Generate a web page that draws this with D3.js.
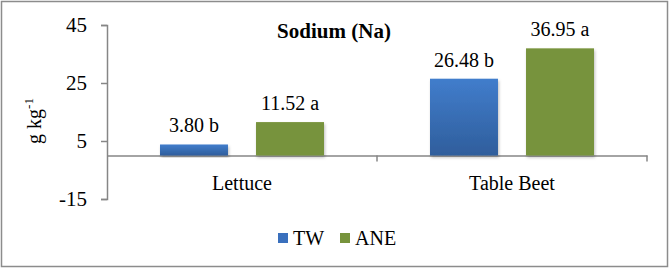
<!DOCTYPE html>
<html>
<head>
<meta charset="utf-8">
<script src="https://cdn.jsdelivr.net/npm/d3@7"></script>
</head>
<body style="margin:0;background:#fff">
<script>
// data
var categories = ["Lettuce", "Table Beet"];
var seriesNames = ["TW", "ANE"];
var twValues = [3.80, 26.48];
var aneValues = [11.52, 36.95];
var twLabels = ["3.80 b", "26.48 b"];
var aneLabels = ["11.52 a", "36.95 a"];
var yTicks = [45, 25, 5, -15];

var width = 669, height = 269;
var margin = {top: 25, right: 22, bottom: 70, left: 107};
var serif = "Times New Roman";

var svg = d3.select("body").append("svg")
    .attr("width", width)
    .attr("height", height)
    .attr("font-family", serif)
    .style("font-family", serif)
    .style("display", "block");

var defs = svg.append("defs");
var grad = defs.append("linearGradient")
    .attr("id", "blueGrad")
    .attr("x1", 0).attr("y1", 0).attr("x2", 0).attr("y2", 1);
grad.append("stop").attr("offset", "0%").attr("stop-color", "#417dcc");
grad.append("stop").attr("offset", "100%").attr("stop-color", "#2f5e9c");

var shadow = defs.append("filter").attr("id", "shadow")
    .attr("x", "-10%").attr("y", "-10%").attr("width", "130%").attr("height", "130%");
shadow.append("feDropShadow")
    .attr("dx", 1).attr("dy", 2).attr("stdDeviation", 1.5)
    .attr("flood-color", "#000").attr("flood-opacity", 0.25);

// frame
svg.append("rect")
    .attr("x", 1.5).attr("y", 1.5)
    .attr("width", width - 3).attr("height", height - 4)
    .attr("fill", "none")
    .attr("stroke", "#8c8c8c")
    .attr("stroke-width", 1.5);

var x0 = d3.scaleBand()
    .domain(categories)
    .range([margin.left, width - margin.right])
    .padding(0);

var x1 = d3.scaleBand()
    .domain(seriesNames)
    .range([0, x0.bandwidth()])
    .paddingInner(0.292)
    .paddingOuter(0.552);

var y = d3.scaleLinear()
    .domain([-15, 45])
    .range([199, 25]);

var colors = {TW: "url(#blueGrad)", ANE: "#77933c"};
var legendColors = {TW: "#3a70bd", ANE: "#77933c"};

var rows = [];
categories.forEach(function(c, i){
    rows.push({cat: c, s: "TW", v: twValues[i], label: twLabels[i]});
    rows.push({cat: c, s: "ANE", v: aneValues[i], label: aneLabels[i]});
});

// y axis
var yAxis = d3.axisLeft(y).tickValues(yTicks).tickSize(6).tickPadding(14)
    .tickFormat(function(d){ return String(d); });
var yg = svg.append("g")
    .attr("transform", "translate(" + margin.left + ",0)")
    .call(yAxis)
    .attr("font-family", serif)
    .attr("font-size", 21);
yg.select(".domain").attr("stroke", "#868686").attr("stroke-width", 1.5);
yg.selectAll(".tick line").attr("stroke", "#868686").attr("stroke-width", 1.5);
yg.selectAll(".tick text")
    .style("font-family", serif)
    .style("font-size", "21px")
    .attr("fill", "#000");

// x axis at zero
var xAxis = d3.axisBottom(x0).tickSize(6).tickPadding(10).tickSizeOuter(0);
var xg = svg.append("g")
    .attr("transform", "translate(0," + y(0) + ")")
    .call(xAxis)
    .attr("font-family", serif)
    .attr("font-size", 20);
xg.select(".domain").attr("stroke", "#868686").attr("stroke-width", 1.5);
xg.selectAll(".tick line")
    .attr("stroke", "#868686").attr("stroke-width", 1.5)
    .attr("transform", "translate(" + (x0.bandwidth() / 2) + ",0)");
xg.selectAll(".tick text")
    .style("font-family", serif)
    .style("font-size", "20px")
    .attr("fill", "#000")
    .attr("dy", "0.9em");

// bars
svg.append("g").selectAll("rect")
    .data(rows)
    .enter().append("rect")
    .attr("x", function(d){ return x0(d.cat) + x1(d.s); })
    .attr("y", function(d){ return y(d.v); })
    .attr("width", x1.bandwidth())
    .attr("height", function(d){ return y(0) - y(d.v); })
    .attr("fill", function(d){ return colors[d.s]; })
    .attr("filter", "url(#shadow)");

// value labels
svg.append("g").selectAll("text")
    .data(rows)
    .enter().append("text")
    .attr("x", function(d){ return x0(d.cat) + x1(d.s) + x1.bandwidth() / 2; })
    .attr("y", function(d){ return y(d.v) - 12; })
    .attr("text-anchor", "middle")
    .style("font-family", serif)
    .style("font-size", "20px")
    .text(function(d){ return d.label; });

// title
svg.append("text")
    .attr("x", 334)
    .attr("y", 38)
    .attr("text-anchor", "middle")
    .style("font-family", serif)
    .style("font-size", "21px")
    .style("font-weight", "bold")
    .text("Sodium (Na)");

// y label
var yl = svg.append("text")
    .attr("transform", "translate(41,121) rotate(-90)")
    .attr("text-anchor", "middle")
    .style("font-family", serif)
    .style("font-size", "20px");
yl.append("tspan").text("g kg");
yl.append("tspan").attr("dy", -8).style("font-size", "13px").text("-1");

// legend
var legendX = [278, 340];
var legend = svg.append("g").selectAll("g")
    .data(seriesNames)
    .enter().append("g")
    .attr("transform", function(d, i){ return "translate(" + legendX[i] + ",233)"; });
legend.append("rect")
    .attr("width", 10).attr("height", 10)
    .attr("fill", function(d){ return legendColors[d]; });
legend.append("text")
    .attr("x", 15)
    .attr("y", 12)
    .style("font-family", serif)
    .style("font-size", "20px")
    .text(function(d){ return d; });
</script>
</body>
</html>
